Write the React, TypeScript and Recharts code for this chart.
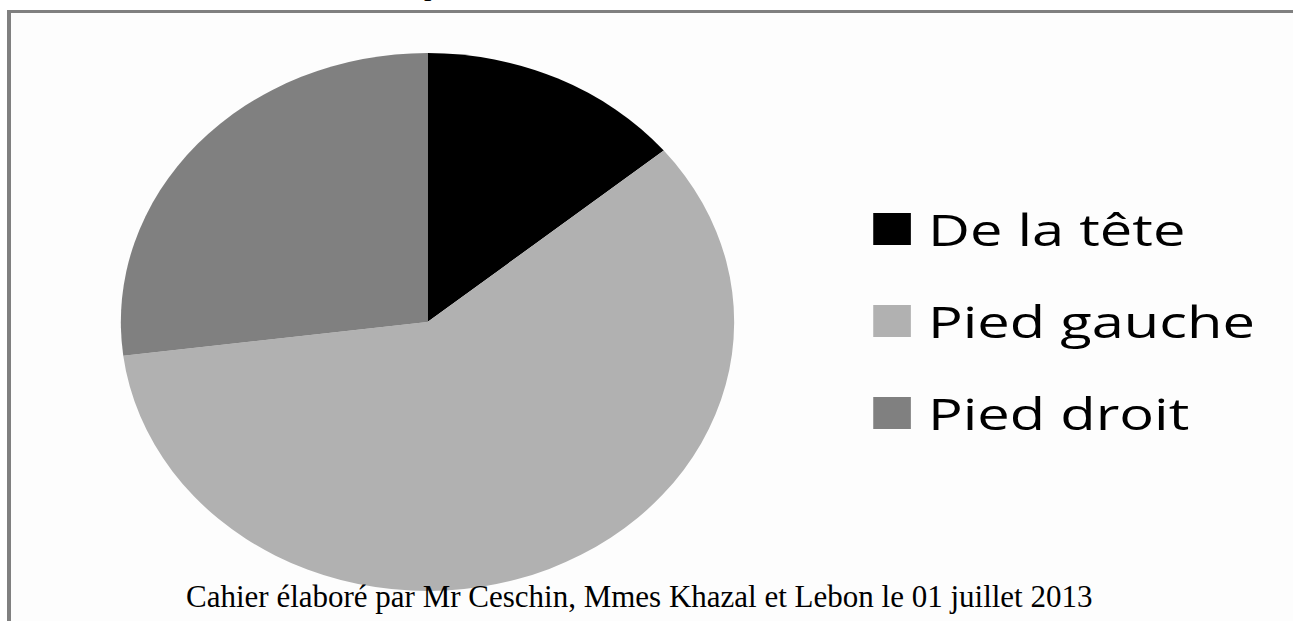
import { PieChart, Pie, Cell, Legend } from 'recharts';

// parts of the pie (percent)
const categories = ['De la tête', 'Pied gauche', 'Pied droit'];
const shares = [14, 59, 27];
const COLORS = ['#000000', '#b1b1b1', '#808080'];

const footerText = 'Cahier élaboré par Mr Ceschin, Mmes Khazal et Lebon le 01 juillet 2013';

const data = categories.map((name, i) => ({ name, value: shares[i] }));

// the whole picture is stretched horizontally
const STRETCH = 1.14;

const renderLegend = (props: any) => {
  // keep the order of the data, not the alphabetical one
  const items = [...props.payload].sort(
    (a: any, b: any) => categories.indexOf(a.value) - categories.indexOf(b.value)
  );
  return (
    <ul style={{ listStyle: 'none', margin: 0, padding: 0 }}>
      {items.map((entry: any, index: number) => (
        <li
          key={`item-${index}`}
          style={{ display: 'flex', alignItems: 'center', height: 92 }}
        >
          <span
            style={{
              display: 'inline-block',
              width: 33,
              height: 32,
              background: entry.color,
              marginRight: 15,
            }}
          />
          <span
            style={{
              display: 'inline-block',
              fontFamily: 'Open Sans',
              fontSize: 43,
              color: '#000',
              lineHeight: '43px',
              whiteSpace: 'nowrap',
              transform: 'scaleX(1.18)',
              transformOrigin: 'left center',
            }}
          >
            {entry.value}
          </span>
        </li>
      ))}
    </ul>
  );
};

export default function App() {
  return (
    <div
      style={{
        position: 'relative',
        width: 1293,
        height: 621,
        overflow: 'hidden',
        background: '#ffffff',
      }}
    >
      <style>{`html, body { margin: 0; padding: 0; overflow: hidden; }`}</style>
      {/* cut-off text from the page above */}
      <div
        style={{
          position: 'absolute',
          left: 424,
          top: -32,
          fontFamily: 'Liberation Serif',
          fontSize: 30,
          color: '#000',
        }}
      >
        p
      </div>
      {/* frame of the chart area */}
      <div
        style={{
          position: 'absolute',
          left: 7,
          top: 10,
          width: 1300,
          height: 640,
          borderTop: '3px solid #808080',
          borderLeft: '4px solid #808080',
          background: '#fdfdfd',
        }}
      />
      <div
        style={{
          position: 'absolute',
          left: 0,
          top: 0,
          transform: `scaleX(${STRETCH})`,
          transformOrigin: 'left top',
        }}
      >
        <PieChart width={1134} height={621} margin={{ top: 0, right: 0, bottom: 0, left: 0 }}>
          <Pie
            data={data}
            dataKey="value"
            nameKey="name"
            cx={375}
            cy={322}
            outerRadius={269}
            startAngle={90}
            endAngle={-270}
            stroke="none"
            isAnimationActive={false}
          >
            {data.map((entry, index) => (
              <Cell key={`cell-${index}`} fill={COLORS[index]} />
            ))}
          </Pie>
          <Legend
            content={renderLegend}
            layout="vertical"
            wrapperStyle={{ left: 766, top: 183, width: 360 }}
          />
        </PieChart>
      </div>
      <div
        style={{
          position: 'absolute',
          left: 186,
          top: 579,
          fontFamily: 'Liberation Serif',
          fontSize: 31,
          color: '#000',
          whiteSpace: 'nowrap',
        }}
      >
        {footerText}
      </div>
    </div>
  );
}
